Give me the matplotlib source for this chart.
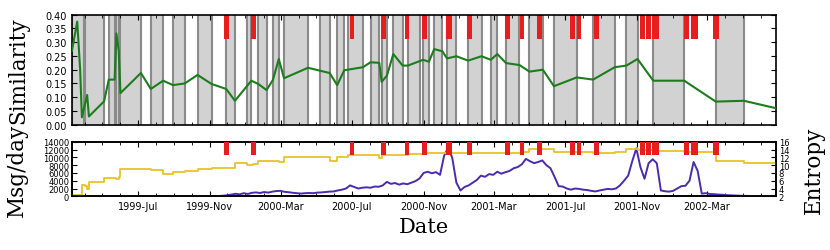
import matplotlib
matplotlib.use("Agg")
import matplotlib.pyplot as plt
import matplotlib.dates as mdates
import pandas as pd

# boundaries between periods (shaded alternately, grey line at each)
period_dates = ["1999-03-10", "1999-03-30", "1999-04-02", "1999-05-04", "1999-05-12",
                "1999-05-22", "1999-05-25", "1999-05-29", "1999-06-01", "1999-07-06",
                "1999-07-23", "1999-08-13", "1999-08-30", "1999-09-19", "1999-10-11",
                "1999-11-04", "1999-11-29", "1999-12-14", "2000-01-03", "2000-01-11",
                "2000-01-23", "2000-02-06", "2000-02-17", "2000-02-27", "2000-03-07",
                "2000-04-17", "2000-05-08", "2000-05-24", "2000-06-06", "2000-06-18",
                "2000-06-25", "2000-07-20", "2000-08-02", "2000-08-17", "2000-08-21",
                "2000-08-30", "2000-09-10", "2000-09-26", "2000-10-05", "2000-10-25",
                "2000-10-31", "2000-11-10", "2000-11-19", "2000-12-03", "2000-12-11",
                "2000-12-27", "2001-01-16", "2001-02-08", "2001-02-24", "2001-03-07",
                "2001-03-22", "2001-04-14", "2001-05-01", "2001-05-24", "2001-06-12",
                "2001-07-21", "2001-08-18", "2001-09-24", "2001-10-14", "2001-11-02",
                "2001-11-29", "2002-01-21", "2002-03-16", "2002-05-03"]

sim_dates = ["1999-03-10", "1999-03-19", "1999-03-24", "1999-03-27", "1999-04-05",
             "1999-04-08", "1999-05-04", "1999-05-12", "1999-05-22", "1999-05-25",
             "1999-05-29", "1999-06-01", "1999-07-06", "1999-07-23", "1999-08-13",
             "1999-08-30", "1999-09-19", "1999-10-11", "1999-11-04", "1999-11-29",
             "1999-12-14", "2000-01-11", "2000-01-23", "2000-02-06", "2000-02-17",
             "2000-02-27", "2000-03-07", "2000-04-17", "2000-05-24", "2000-06-06",
             "2000-06-18", "2000-07-20", "2000-08-02", "2000-08-17", "2000-08-21",
             "2000-08-30", "2000-09-10", "2000-09-26", "2000-10-05", "2000-10-31",
             "2000-11-10", "2000-11-19", "2000-12-03", "2000-12-11", "2000-12-27",
             "2001-01-16", "2001-02-08", "2001-02-24", "2001-03-07", "2001-03-22",
             "2001-04-14", "2001-05-01", "2001-05-24", "2001-06-12", "2001-07-21",
             "2001-08-18", "2001-09-24", "2001-10-14", "2001-11-02", "2001-11-29",
             "2002-01-21", "2002-03-16", "2002-05-03", "2002-06-27"]
sim_values = [0.269, 0.375, 0.20, 0.027, 0.108, 0.030, 0.085, 0.164, 0.164, 0.332,
              0.269, 0.115, 0.188, 0.130, 0.160, 0.144, 0.150, 0.181, 0.148, 0.130,
              0.087, 0.160, 0.148, 0.126, 0.163, 0.239, 0.169, 0.207, 0.188, 0.144,
              0.198, 0.209, 0.227, 0.225, 0.156, 0.178, 0.257, 0.215, 0.215, 0.236,
              0.229, 0.275, 0.267, 0.241, 0.249, 0.233, 0.249, 0.236, 0.257, 0.224,
              0.217, 0.193, 0.200, 0.140, 0.172, 0.164, 0.209, 0.215, 0.239, 0.160,
              0.160, 0.084, 0.087, 0.060]

ent_dates = ["1999-03-10", "1999-03-27", "1999-04-02", "1999-04-05", "1999-04-08",
             "1999-05-04", "1999-05-22", "1999-05-25", "1999-05-29", "1999-06-01",
             "1999-07-23", "1999-08-13", "1999-08-30", "1999-09-19", "1999-10-11",
             "1999-11-04", "1999-12-14", "2000-01-03", "2000-01-14", "2000-01-23",
             "2000-02-27", "2000-03-07", "2000-04-17", "2000-05-24", "2000-06-06",
             "2000-06-25", "2000-08-17", "2000-08-21", "2000-10-05", "2000-10-31",
             "2000-12-03", "2000-12-27", "2001-04-17", "2001-05-01", "2001-06-12",
             "2001-08-18", "2001-09-24", "2001-10-14", "2001-11-02", "2001-11-29",
             "2002-01-21", "2002-03-16", "2002-05-03", "2002-06-27"]
ent_values = [2.3, 5.0, 4.6, 4.0, 5.7, 6.6, 6.8, 6.4, 7.0, 9.0,
              8.8, 7.8, 8.3, 8.4, 8.9, 9.2, 10.6, 10.1, 10.4, 11.0,
              10.8, 12.2, 12.1, 11.05, 12.0, 12.6, 11.7, 12.5, 12.8, 13.1,
              13.2, 13.1, 13.4, 14.1, 13.4, 13.1, 13.4, 14.1, 13.8, 13.5,
              13.3, 11.0, 10.46, 7.9]

# messages per day, read weekly from 1999-03-10
msg_start = "1999-03-10"
msg_per_day = [0, 0, 0, 0, 0, 0, 0, 0, 0, 0,
               0, 0, 0, 0, 0, 0, 0, 0, 0, 0,
               0, 0, 0, 0, 0, 0, 0, 0, 0, 0,
               20, 30, 40, 30, 50, 60, 80, 150, 300, 450,
               650, 500, 800, 600, 900, 1000, 850, 1100, 950, 1200,
               1350, 1400, 1150, 1050, 900, 800, 700, 800, 850, 800,
               950, 1000, 1100, 1200, 1250, 1500, 1700, 2000, 2800, 2400,
               2000, 2200, 2300, 2200, 2500, 2450, 2800, 3700, 3200, 3400,
               3000, 3300, 3100, 3500, 3900, 4600, 6000, 6300, 5900, 6200,
               5500, 10400, 12500, 9800, 3500, 1500, 2400, 2800, 3500, 4200,
               5300, 5000, 5700, 5500, 6300, 5800, 6200, 6500, 7200, 7500,
               8200, 9600, 9000, 8500, 8800, 9200, 8000, 7200, 5000, 2600,
               2500, 2000, 1700, 2000, 1900, 1700, 1600, 1400, 1250, 1500,
               1700, 1900, 1800, 2000, 2800, 4000, 5300, 9000, 12300, 7500,
               4500, 8500, 9500, 8500, 1500, 1300, 1200, 1400, 2000, 2600,
               2700, 4000, 8800, 6500, 700, 800, 600, 550, 450, 400,
               300, 250, 200, 150, 120, 100, 80, 60, 50, 40,
               30, 20, 20]

red_starts = ["1999-11-25", "2000-01-11", "2000-06-28", "2000-08-20", "2000-09-30",
              "2000-10-29", "2000-12-10", "2001-01-14", "2001-03-20", "2001-04-15",
              "2001-05-14", "2001-07-10", "2001-07-22", "2001-08-19", "2001-11-06",
              "2001-11-17", "2001-11-26", "2002-01-21", "2002-02-02", "2002-03-12"]
red_ends = ["1999-12-03", "2000-01-19", "2000-07-04", "2000-08-28", "2000-10-07",
            "2000-11-06", "2000-12-20", "2001-01-22", "2001-03-29", "2001-04-22",
            "2001-05-22", "2001-07-18", "2001-07-29", "2001-08-28", "2001-11-14",
            "2001-11-25", "2001-12-08", "2002-01-29", "2002-02-13", "2002-03-21"]

periods = pd.to_datetime(period_dates)
sim_x = pd.to_datetime(sim_dates)
ent_x = pd.to_datetime(ent_dates)
msg_x = pd.date_range(msg_start, periods=len(msg_per_day), freq="7D")
reds = list(zip(pd.to_datetime(red_starts), pd.to_datetime(red_ends)))

plt.rcParams["font.family"] = "DejaVu Sans"
plt.rcParams["axes.linewidth"] = 1.2

fig = plt.figure(figsize=(8.3, 2.51), dpi=100)
ax1 = fig.add_axes([0.0867, 0.4992, 0.8482, 0.4382])
ax2 = fig.add_axes([0.0867, 0.2139, 0.8482, 0.2175], sharex=ax1)

# top: similarity
for i in range(0, len(periods) - 1, 2):
    ax1.axvspan(periods[i], periods[i + 1], color="#d2d2d2", lw=0, zorder=0)
for d in periods:
    ax1.axvline(d, color="#8a8a8a", lw=1.5, zorder=1)
for s, e in reds:
    ax1.axvspan(s, e, ymin=0.775, ymax=1, color="#e81e1e", lw=0, zorder=2)
ax1.plot(sim_x, sim_values, color="#1b7d1b", lw=1.5, zorder=3)
ax1.set_ylim(0, 0.40)
ax1.set_yticks([0, 0.05, 0.10, 0.15, 0.20, 0.25, 0.30, 0.35, 0.40])
ax1.set_yticklabels(["%.2f" % v for v in ax1.get_yticks()])
ax1.set_ylabel("Similarity", family="DejaVu Serif", fontsize=15.5)
ax1.yaxis.set_label_coords(-0.06, 0.5)
plt.setp(ax1.get_xticklabels(), visible=False)

# bottom: messages and entropy
ax2.plot(msg_x, msg_per_day, color="#4a2bb0", lw=1.4, zorder=3)
ax2.set_ylim(0, 14000)
ax2.set_yticks(range(0, 14001, 2000))
ax2.set_ylabel("Msg/day", family="DejaVu Serif", fontsize=15.5)
ax2.yaxis.set_label_coords(-0.062, 0.5)
ax2.set_xlabel("Date", family="DejaVu Serif", fontsize=15)

ax3 = ax2.twinx()
ax3.step(ent_x, ent_values, where="post", color="#e8c32a", lw=1.3, zorder=2)
for s, e in reds:
    ax3.axvspan(s, e, ymin=0.75, ymax=1, color="#e81e1e", lw=0, zorder=3)
ax3.set_ylim(2, 16)
ax3.set_yticks(range(2, 17, 2))
ax3.set_ylabel("Entropy", family="DejaVu Serif", fontsize=15.5)
ax3.yaxis.set_label_coords(1.038, 0.5)

ax1.set_xlim(sim_x[0], sim_x[-1])
ax2.xaxis.set_major_locator(mdates.MonthLocator(bymonth=(3, 7, 11)))
ax2.xaxis.set_major_formatter(mdates.DateFormatter("%Y-%b"))
ax2.xaxis.set_minor_locator(mdates.MonthLocator())

for ax in (ax1, ax2):
    ax.tick_params(which="both", direction="in", top=True, labelsize=7)
    ax.tick_params(which="major", length=3.5)
    ax.tick_params(which="minor", length=2)
ax1.tick_params(right=True)
ax2.tick_params(axis="y", labelsize=6, pad=2)
ax3.tick_params(direction="in", labelsize=6, length=3.5, pad=2)

fig.savefig("out.png", dpi=100)
